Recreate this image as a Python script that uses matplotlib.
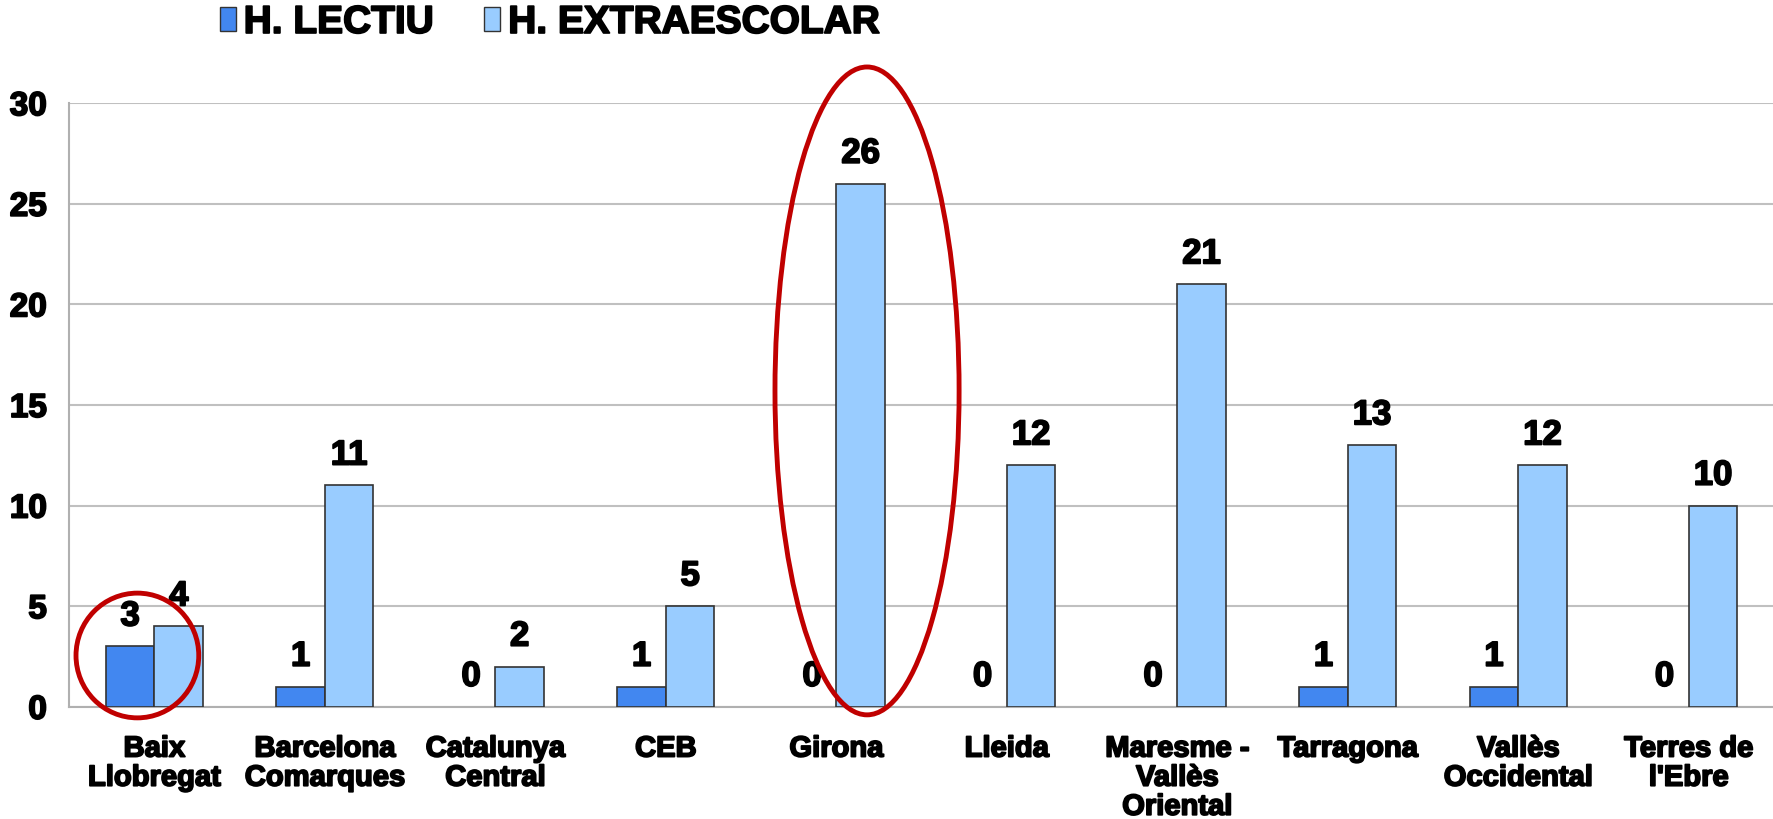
import numpy as np
import matplotlib.pyplot as plt
import matplotlib.patheffects as pe
from matplotlib.patches import Ellipse, Patch

plt.rcParams['font.family'] = ['Liberation Sans', 'DejaVu Sans']
plt.rcParams['font.weight'] = 'bold'

CATEGORIES = ["Baix\nLlobregat", "Barcelona\nComarques", "Catalunya\nCentral", "CEB",
              "Girona", "Lleida", "Maresme -\nVallès\nOriental", "Tarragona",
              "Vallès\nOccidental", "Terres de\nl'Ebre"]
LECTIU = [3, 1, 0, 1, 0, 0, 0, 1, 1, 0]
EXTRAESCOLAR = [4, 11, 2, 5, 26, 12, 21, 13, 12, 10]
SERIES = ["H. LECTIU", "H. EXTRAESCOLAR"]

C_DARK = "#4287f0"
C_LIGHT = "#99ccff"
FAT = [pe.withStroke(linewidth=1.3, foreground="black")]

fig = plt.figure(figsize=(17.74, 8.19), dpi=100)
ax = fig.add_axes([0.039, 0.137, 0.961, 0.737])

x = np.arange(len(CATEGORIES))
w = 0.285
ax.bar(x - w / 2, LECTIU, w, color=C_DARK, edgecolor="#333333",
       lw=[1.2 if v else 0 for v in LECTIU], zorder=3)
ax.bar(x + w / 2, EXTRAESCOLAR, w, color=C_LIGHT, edgecolor="#333333",
       lw=[1.2 if v else 0 for v in EXTRAESCOLAR], zorder=3)

for xs, vals in [(x - w / 2, LECTIU), (x + w / 2, EXTRAESCOLAR)]:
    for xi, v in zip(xs, vals):
        ax.annotate(str(v), (xi, v), xytext=(0, 10), textcoords="offset points",
                    ha="center", va="bottom", fontsize=25, fontweight="bold",
                    path_effects=FAT)

ax.set_xlim(-0.5, len(CATEGORIES) - 0.5)
ax.set_ylim(0, 30)
ax.set_yticks(range(0, 31, 5))
ax.set_xticks(x)
ax.set_xticklabels(CATEGORIES, fontsize=21, fontweight="bold", linespacing=1.05)
ax.tick_params(axis="both", length=0)
ax.tick_params(axis="x", pad=20)
ax.tick_params(axis="y", labelsize=24, pad=16)
for t in ax.get_xticklabels() + ax.get_yticklabels():
    t.set_path_effects(FAT)
ax.yaxis.grid(True, color="#c0c0c0", lw=1.5, zorder=0)
for s in ["top", "right"]:
    ax.spines[s].set_visible(False)
for s in ["left", "bottom"]:
    ax.spines[s].set_color("#b0b0b0")
    ax.spines[s].set_linewidth(1.5)

# red highlight ellipses
ax.add_patch(Ellipse((-0.10, 2.55), 0.72, 6.2, fill=False, ec="#c00000", lw=3.5,
                     clip_on=False, zorder=6))
ax.add_patch(Ellipse((4.18, 15.7), 1.08, 32.2, fill=False, ec="#c00000", lw=3.5,
                     clip_on=False, zorder=6))

handles = [Patch(fc=C_DARK, ec="#333333"), Patch(fc=C_LIGHT, ec="#333333")]
leg = fig.legend(handles, SERIES, loc="center left", bbox_to_anchor=(0.115, 0.972), ncol=2,
                 frameon=False, fontsize=28, handlelength=0.42, handleheight=0.55,
                 handletextpad=0.2, columnspacing=1.3, borderaxespad=0)
for t in leg.get_texts():
    t.set_path_effects(FAT)

fig.savefig("out.png", dpi=100)
